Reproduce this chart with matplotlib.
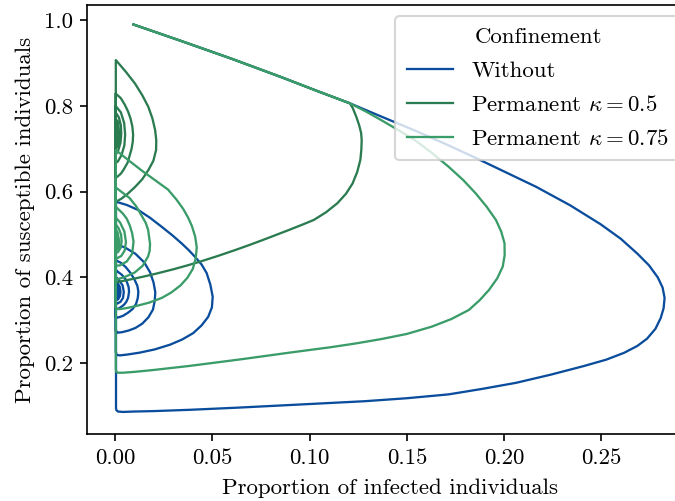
import matplotlib
matplotlib.use("Agg")
import matplotlib.pyplot as plt

plt.rcParams['font.family'] = 'serif'
plt.rcParams['font.serif'] = ['cmr10']
plt.rcParams['mathtext.fontset'] = 'cm'
plt.rcParams['axes.formatter.use_mathtext'] = True
plt.rcParams['font.size'] = 11

# ---- data (I = infected, S = susceptible) ----
shared_I = [0.0095, 0.0350, 0.0600, 0.0850, 0.1050, 0.1208]
shared_S = [0.990, 0.950, 0.910, 0.868, 0.833, 0.806]

without_I = [0.1370, 0.1550, 0.1705, 0.1853, 0.2010, 0.2166, 0.2340, 0.2496, 0.2600, 0.2686,
             0.2745, 0.2790, 0.2815, 0.2825, 0.2820, 0.2805, 0.2778, 0.2735, 0.2685, 0.2617,
             0.2525, 0.2409, 0.2240, 0.2062, 0.1890, 0.1715, 0.1500, 0.1282, 0.1060, 0.0848,
             0.0630, 0.0385, 0.0200, 0.0100, 0.0040, 0.0015, 0.0007, 0.0005, 0.0005,
             0.0005, 0.0060, 0.0120, 0.0180, 0.0240, 0.0295, 0.0343, 0.0380, 0.0411, 0.0445,
             0.0471, 0.0490, 0.0502, 0.0498, 0.0479, 0.0445, 0.0402, 0.0345, 0.0283, 0.0205,
             0.0128, 0.0065, 0.0025, 0.0008, 0.0004,
             0.0004, 0.0050, 0.0105, 0.0150, 0.0180, 0.0198, 0.0207, 0.0204, 0.0195, 0.0172,
             0.0140, 0.0105, 0.0070, 0.0035, 0.0012, 0.0004,
             0.0004, 0.0030, 0.0055, 0.0080, 0.0100, 0.0115, 0.0120, 0.0117, 0.0108, 0.0090,
             0.0065, 0.0040, 0.0020, 0.0008, 0.0003,
             0.0003, 0.0035, 0.0052, 0.0062, 0.0070, 0.0072, 0.0067, 0.0058, 0.0046, 0.0022,
             0.0007, 0.0003,
             0.0003, 0.0022, 0.0039, 0.0045, 0.0041, 0.0028, 0.0012, 0.0003,
             0.0003, 0.0015, 0.0025, 0.0028, 0.0025, 0.0016, 0.0006, 0.0003,
             0.0003, 0.0012, 0.0018, 0.0016, 0.0009, 0.0003,
             0.0003, 0.0011, 0.0007, 0.0003, 0.0005, 0.0008]
without_S = [0.775, 0.741, 0.710, 0.679, 0.645, 0.611, 0.568, 0.524, 0.490, 0.455,
             0.428, 0.400, 0.376, 0.352, 0.328, 0.305, 0.280, 0.257, 0.240, 0.224,
             0.208, 0.193, 0.173, 0.154, 0.140, 0.127, 0.118, 0.111, 0.106, 0.101,
             0.096, 0.091, 0.088, 0.087, 0.086, 0.087, 0.090, 0.095, 0.300,
             0.5765, 0.569, 0.557, 0.539, 0.518, 0.498, 0.479, 0.463, 0.448, 0.430,
             0.410, 0.383, 0.355, 0.330, 0.308, 0.288, 0.270, 0.255, 0.243, 0.232,
             0.2245, 0.220, 0.218, 0.219, 0.226,
             0.477, 0.470, 0.455, 0.435, 0.412, 0.388, 0.365, 0.345, 0.325, 0.307,
             0.292, 0.282, 0.276, 0.272, 0.271, 0.276,
             0.440, 0.434, 0.424, 0.410, 0.395, 0.380, 0.366, 0.352, 0.338, 0.326,
             0.317, 0.310, 0.307, 0.306, 0.309,
             0.417, 0.406, 0.397, 0.388, 0.377, 0.366, 0.352, 0.343, 0.336, 0.328,
             0.326, 0.330,
             0.401, 0.393, 0.381, 0.366, 0.352, 0.343, 0.339, 0.341,
             0.391, 0.386, 0.377, 0.366, 0.356, 0.349, 0.347, 0.349,
             0.384, 0.378, 0.367, 0.358, 0.353, 0.354,
             0.379, 0.367, 0.358, 0.358, 0.372, 0.366]

k05_I = [0.1222, 0.1240, 0.1255, 0.1265, 0.1268, 0.1266, 0.1261, 0.1245, 0.1221, 0.1187,
         0.1143, 0.1085, 0.1022, 0.0960, 0.0899, 0.0780, 0.0700, 0.0620, 0.0530, 0.0437,
         0.0370, 0.0300, 0.0214, 0.0150, 0.0100, 0.0060, 0.0030, 0.0012, 0.0004,
         0.0004, 0.0055, 0.0103, 0.0140, 0.0171, 0.0192, 0.0206, 0.0212, 0.0211, 0.0197,
         0.0171, 0.0140, 0.0103, 0.0065, 0.0034, 0.0015, 0.0005, 0.0003,
         0.0003, 0.0030, 0.0050, 0.0067, 0.0080, 0.0089, 0.0093, 0.0091, 0.0085, 0.0065,
         0.0045, 0.0030, 0.0015, 0.0006, 0.0003,
         0.0003, 0.0030, 0.0047, 0.0052, 0.0048, 0.0033, 0.0014, 0.0003,
         0.0003, 0.0020, 0.0030, 0.0032, 0.0028, 0.0017, 0.0006, 0.0003,
         0.0003, 0.0015, 0.0021, 0.0017, 0.0007, 0.0003,
         0.0003, 0.0013, 0.0009, 0.0003, 0.0003, 0.0008]
k05_S = [0.795, 0.775, 0.755, 0.737, 0.720, 0.697, 0.674, 0.646, 0.619, 0.595,
         0.573, 0.552, 0.534, 0.5225, 0.5115, 0.4907, 0.4771, 0.4641, 0.4502, 0.4367,
         0.4277, 0.4189, 0.409, 0.4022, 0.3972, 0.3934, 0.3907, 0.389, 0.392,
         0.907, 0.880, 0.852, 0.825, 0.798, 0.771, 0.744, 0.720, 0.697, 0.672,
         0.650, 0.629, 0.611, 0.595, 0.584, 0.579, 0.578, 0.582,
         0.829, 0.818, 0.803, 0.787, 0.770, 0.752, 0.733, 0.716, 0.700, 0.668,
         0.652, 0.642, 0.636, 0.633, 0.635,
         0.800, 0.785, 0.760, 0.734, 0.708, 0.685, 0.670, 0.667,
         0.785, 0.773, 0.755, 0.735, 0.714, 0.697, 0.688, 0.688,
         0.771, 0.762, 0.736, 0.713, 0.702, 0.703,
         0.762, 0.737, 0.716, 0.711, 0.752, 0.737]

k075_I = [0.1290, 0.1368, 0.1455, 0.1542, 0.1630, 0.1715, 0.1790, 0.1854, 0.1910, 0.1958,
          0.1985, 0.2002, 0.2003, 0.1993, 0.1965, 0.1923, 0.1875, 0.1819, 0.1730, 0.1628,
          0.1500, 0.1368, 0.1240, 0.1108, 0.0899, 0.0642, 0.0385, 0.0200, 0.0100, 0.0040,
          0.0015, 0.0006, 0.0004,
          0.0004, 0.0070, 0.0135, 0.0205, 0.0272, 0.0315, 0.0350, 0.0375, 0.0395, 0.0412,
          0.0420, 0.0415, 0.0400, 0.0372, 0.0336, 0.0290, 0.0240, 0.0175, 0.0107, 0.0055,
          0.0025, 0.0008, 0.0003,
          0.0003, 0.0075, 0.0110, 0.0138, 0.0158, 0.0170, 0.0180, 0.0178, 0.0170, 0.0142,
          0.0100, 0.0045, 0.0012, 0.0003,
          0.0003, 0.0040, 0.0060, 0.0075, 0.0088, 0.0095, 0.0088, 0.0060, 0.0025, 0.0003,
          0.0003, 0.0026, 0.0048, 0.0056, 0.0050, 0.0032, 0.0012, 0.0003,
          0.0003, 0.0018, 0.0031, 0.0034, 0.0028, 0.0015, 0.0003,
          0.0003, 0.0014, 0.0021, 0.0017, 0.0007, 0.0003,
          0.0003, 0.0013, 0.0009, 0.0003, 0.0006, 0.0007]
k075_S = [0.787, 0.767, 0.744, 0.720, 0.690, 0.658, 0.627, 0.596, 0.565, 0.534,
          0.507, 0.480, 0.452, 0.425, 0.398, 0.371, 0.347, 0.324, 0.303, 0.285,
          0.268, 0.256, 0.246, 0.237, 0.2245, 0.2085, 0.1935, 0.1840, 0.1795, 0.1775,
          0.1775, 0.180, 0.186,
          0.697, 0.673, 0.650, 0.627, 0.605, 0.582, 0.560, 0.540, 0.520, 0.495,
          0.470, 0.445, 0.420, 0.399, 0.381, 0.365, 0.352, 0.341, 0.333, 0.328,
          0.326, 0.326, 0.331,
          0.610, 0.585, 0.565, 0.543, 0.527, 0.511, 0.478, 0.462, 0.449, 0.427,
          0.411, 0.400, 0.396, 0.399,
          0.565, 0.549, 0.537, 0.522, 0.503, 0.483, 0.455, 0.437, 0.428, 0.427,
          0.540, 0.528, 0.507, 0.483, 0.463, 0.450, 0.445, 0.446,
          0.524, 0.515, 0.500, 0.484, 0.468, 0.459, 0.457,
          0.513, 0.503, 0.485, 0.470, 0.464, 0.465,
          0.505, 0.486, 0.474, 0.472, 0.490, 0.485]

labels = ['Without', r'Permanent $\kappa = 0.5$', r'Permanent $\kappa = 0.75$']
colors = ['#0a4d9c', '#2b7b50', '#3a9c68']

series = [(shared_I + without_I, shared_S + without_S),
          (shared_I + k05_I, shared_S + k05_S),
          (shared_I + k075_I, shared_S + k075_S)]

fig = plt.figure(figsize=(4.5, 3.34), dpi=150)
ax = fig.add_axes([0.1295, 0.1337, 0.8957, 0.8563])
for (xi, si), lab, col in zip(series, labels, colors):
    ax.plot(xi, si, color=col, lw=1.1, label=lab, solid_joinstyle='round')

ax.set_xlim(-0.0142, 0.2966)
ax.set_ylim(0.0345, 1.0355)
ax.set_xticks([0.0, 0.05, 0.10, 0.15, 0.20, 0.25])
ax.set_xticklabels(['0.00', '0.05', '0.10', '0.15', '0.20', '0.25'])
ax.set_yticks([0.2, 0.4, 0.6, 0.8, 1.0])
ax.set_yticklabels(['0.2', '0.4', '0.6', '0.8', '1.0'])
ax.set_xlabel('Proportion of infected individuals', labelpad=5)
ax.set_ylabel('Proportion of susceptible individuals', labelpad=4)
ax.legend(title='Confinement', loc='upper right', labelspacing=0.6, borderpad=0.5)

fig.savefig('out.png', dpi=150)
